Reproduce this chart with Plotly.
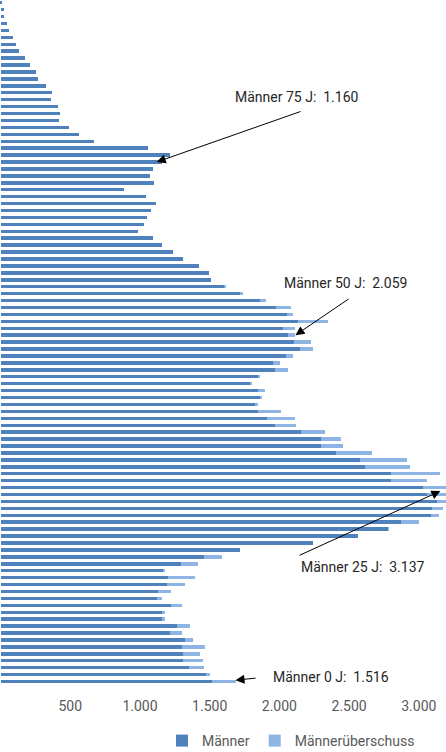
import plotly.graph_objects as go

# ---- data ----
ages = list(range(0, 99))
maenner = [1516, 1472, 1350, 1307, 1307, 1300, 1321, 1214, 1262, 1157,
           1157, 1221, 1121, 1132, 1194, 1201, 1171, 1292, 1457, 1718,
           2243, 2561, 2781, 2869, 3089, 3096, 3131, 3060, 3031, 2802,
           2797, 2616, 2575, 2408, 2296, 2300, 2152, 1971, 1913, 1848,
           1824, 1868, 1848, 1786, 1853, 1966, 1952, 2045, 2145, 2102,
           2059, 2023, 2131, 2052, 1973, 1859, 1715, 1605, 1507, 1495,
           1424, 1307, 1234, 1161, 1094, 986, 1027, 1053, 1081, 1113,
           1042, 882, 1099, 1070, 1094, 1160, 1213, 1060, 673, 560,
           493, 421, 424, 410, 363, 366, 328, 271, 252, 209,
           173, 133, 111, 90, 58, 44, 27, 22, 10]
gesamt = [1687, 1505, 1460, 1455, 1429, 1467, 1383, 1298, 1362, 1183,
          1178, 1298, 1161, 1221, 1323, 1397, 1178, 1419, 1591, 1718,
          2243, 2561, 2783, 3003, 3146, 3175, 3250, 3240, 3220, 3060,
          3150, 2935, 2912, 2666, 2458, 2439, 2326, 2119, 2113, 2008,
          1848, 1870, 1896, 1806, 1863, 2059, 2002, 2097, 2243, 2229,
          2113, 2113, 2348, 2100, 2081, 1906, 1737, 1610, 1507]
ueberschuss = [max(g - m, 0) for g, m in zip(gesamt, maenner)] + [0] * (len(ages) - len(gesamt))

tick_vals = [0, 500, 1000, 1500, 2000, 2500, 3000]

# annotations: (label, age, arrow tip value, tail pixel, text centre pixel)
notes = [
    ("Männer 75 J:\u00a0 1.160", 75, 1120, (302, 111), (297, 97)),
    ("Männer 50 J:\u00a0 2.059", 50, 2115, (350, 298), (345, 283)),
    ("Männer 25 J:\u00a0 3.137", 27.5, 3155, (298, 556), (363, 567)),
    ("Männer 0 J:\u00a0 1.516", 0.2, 1685, (257, 678), (331, 677)),
]

# ---- layout geometry ----
W, Hfig = 446, 752
T, B = 0, 67
H = Hfig - T - B
X0, X1 = -4, 3195
Y0, Y1 = -0.5, 98.39

def px(v):
    return (v - X0) / (X1 - X0) * W

def py(a):
    return (Y1 - a) / (Y1 - Y0) * H

def vx(p):
    return X0 + p / W * (X1 - X0)

def ay_(p):
    return Y1 - p / H * (Y1 - Y0)

dark = "#4F81BD"
light = "#8EB4E3"

fig = go.Figure()
fig.add_trace(go.Bar(y=ages, x=maenner, orientation="h", name="Männer",
                     marker=dict(color=dark, line=dict(width=0))))
fig.add_trace(go.Bar(y=ages, x=ueberschuss, orientation="h", name="Männerüberschuss",
                     marker=dict(color=light, line=dict(width=0))))

annotations = []
for label, age, tip, tail, tc in notes:
    tx, ty = px(tip), py(age)
    annotations.append(dict(x=tip, y=age, xref="x", yref="y", text="",
                            showarrow=True, arrowhead=2, arrowsize=1.8,
                            arrowwidth=1, arrowcolor="#000000",
                            ax=tail[0] - tx, ay=tail[1] - ty, standoff=0))
    annotations.append(dict(x=vx(tc[0]), y=ay_(tc[1]), xref="x", yref="y",
                            text=label, showarrow=False,
                            xanchor="center", yanchor="middle",
                            font=dict(family="Roboto", size=14, color="#262626")))

fig.update_layout(
    width=W, height=Hfig,
    margin=dict(l=0, r=0, t=T, b=B, autoexpand=False),
    paper_bgcolor="white", plot_bgcolor="white",
    barmode="stack", bargap=0.5,
    separators=",.",
    font=dict(family="Roboto", size=14, color="#595959"),
    showlegend=True,
    legend=dict(orientation="h", x=162 / W, xanchor="left",
                y=-(741 - H) / H, yanchor="middle",
                font=dict(family="Roboto", size=14, color="#595959"),
                itemwidth=30, traceorder="normal", bgcolor="rgba(0,0,0,0)"),
    annotations=annotations,
)
fig.update_xaxes(range=[X0, X1], tickvals=tick_vals, tickformat=",d",
                 showgrid=False, zeroline=False, showline=False, ticks="",
                 automargin=False,
                 ticklabelstandoff=11, tickfont=dict(family="Roboto", size=14, color="#595959"))
fig.update_yaxes(range=[Y0, Y1], visible=False, showgrid=False, zeroline=False,
                 automargin=False)

fig.write_html("out.html", config={"displayModeBar": False},
               post_script="document.body.style.margin='0';document.body.style.overflow='hidden';")
